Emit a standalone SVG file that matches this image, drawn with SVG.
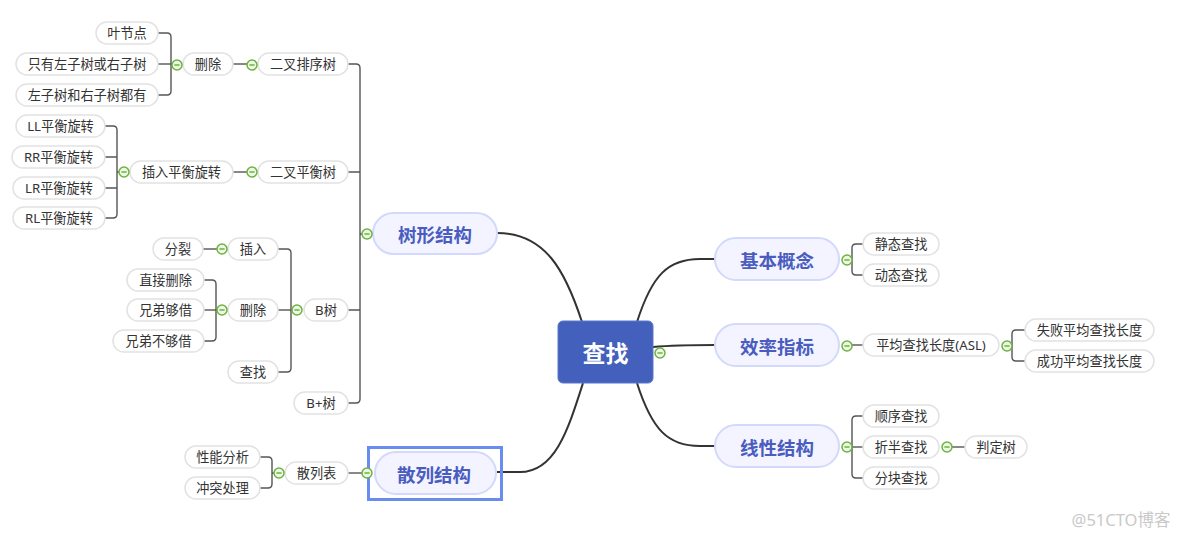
<svg xmlns="http://www.w3.org/2000/svg" xmlns:xlink="http://www.w3.org/1999/xlink" width="1181" height="537" viewBox="0 0 1181 537">
<style>
text{font-family:"Noto Sans","Noto Sans CJK SC",sans-serif;text-anchor:middle;dominant-baseline:central}
.sub rect{fill:#fff;stroke:#e2e2e2;stroke-width:1.5}
.sub text{font-size:13.2px;fill:#333}
.main rect{fill:#f3f4ff;stroke:#d2d9fa;stroke-width:2}
.main text{font-size:18.5px;font-weight:bold;fill:#4a5dbf}
.conn path{fill:none;stroke:#333;stroke-width:2}
.br path{fill:none;stroke:#555;stroke-width:1.4}
</style>
<defs>
<g id="col"><circle r="5" fill="#eef7e6" stroke="#6db33f" stroke-width="1.5"/><path d="M-2.6 0H2.6" stroke="#6db33f" stroke-width="1.5"/></g>
</defs>
<rect width="1181" height="537" fill="#fff"/>

<g id="connectors">
<g class="conn">
<path d="M497 233 C545 233 565 270 582 322"/>
<path d="M637 322 C652 275 668 259 700 259 L715 259"/>
<path d="M653 347 C675 345 690 345 715 345"/>
<path d="M637 383 C652 430 668 446 700 446 L715 446"/>
<path d="M583 383 C568 430 555 472 520 472 L497 472"/>
</g>
<g class="br">
<path d="M158 33 H167 Q171 33 171 37 V91 Q171 95 167 95 H158"/>
<path d="M158 64 H172"/>
<path d="M233 64 H247"/>
<path d="M105 126 H113 Q117 126 117 130 V214 Q117 218 113 218 H105"/>
<path d="M105 157 H117 M105 188 H117 M117 172 H119"/>
<path d="M233 172 H247"/>
<path d="M348 64 H356 Q360 64 360 68 V399 Q360 403 356 403 H348"/>
<path d="M348 172 H360 M348 310 H360 M360 234 H362"/>
<path d="M278 249 H287 Q291 249 291 253 V368 Q291 372 287 372 H278"/>
<path d="M278 310 H292"/>
<path d="M203 249 H217"/>
<path d="M204 280 H212 Q216 280 216 284 V337 Q216 341 212 341 H204"/>
<path d="M204 310 H217"/>
<path d="M260 457 H268 Q272 457 272 461 V484 Q272 488 268 488 H260"/>
<path d="M272 473 H274"/>
<path d="M348 473 H362"/>
<path d="M863 244 H856 Q852 244 852 248 V271 Q852 275 856 275 H863"/>
<path d="M852 345 H863"/>
<path d="M1025 330 H1016 Q1012 330 1012 334 V357 Q1012 361 1016 361 H1025"/>
<path d="M863 416 H856 Q852 416 852 420 V474 Q852 478 856 478 H863"/>
<path d="M852 447 H863"/>
<path d="M952 447 H965"/>
</g>
</g>

<g id="center"><rect x="558" y="321" width="95" height="62" rx="5" fill="#4360bc" stroke="#5b77cc" stroke-width="1"/><text x="605.5" y="353" font-size="23" font-weight="bold" fill="#fff">查找</text></g>

<g id="main-tree" class="main"><rect x="373" y="213" width="124" height="41" rx="20.5"/><text x="435" y="234">树形结构</text></g>
<g id="main-basic" class="main"><rect x="715" y="238" width="124" height="42" rx="21"/><text x="777" y="260">基本概念</text></g>
<g id="main-eff" class="main"><rect x="715" y="324" width="124" height="42" rx="21"/><text x="777" y="346">效率指标</text></g>
<g id="main-linear" class="main"><rect x="715" y="425" width="124" height="42" rx="21"/><text x="777" y="447">线性结构</text></g>
<g id="main-hash" class="main"><rect x="368.5" y="447.5" width="133" height="52" style="fill:none;stroke:#6a8cee;stroke-width:3"/><rect x="375" y="452" width="121" height="42" rx="21"/><text x="434" y="474">散列结构</text></g>

<g id="n-ye" class="sub"><rect x="96" y="22" width="62" height="22" rx="11"/><text x="127" y="33">叶节点</text></g>
<g id="n-zhiyou" class="sub"><rect x="16" y="53" width="142" height="22" rx="11"/><text x="87" y="64">只有左子树或右子树</text></g>
<g id="n-dou" class="sub"><rect x="16" y="84" width="142" height="22" rx="11"/><text x="87" y="95">左子树和右子树都有</text></g>
<g id="n-shanchu1" class="sub"><rect x="183" y="53" width="50" height="22" rx="11"/><text x="208" y="64">删除</text></g>
<g id="n-bst" class="sub"><rect x="258" y="53" width="90" height="22" rx="11"/><text x="303" y="64">二叉排序树</text></g>
<g id="n-ll" class="sub"><rect x="16" y="115" width="89" height="22" rx="11"/><text x="60.5" y="126">LL平衡旋转</text></g>
<g id="n-rr" class="sub"><rect x="12" y="146" width="93" height="22" rx="11"/><text x="58.5" y="157">RR平衡旋转</text></g>
<g id="n-lr" class="sub"><rect x="13" y="177" width="92" height="22" rx="11"/><text x="59" y="188">LR平衡旋转</text></g>
<g id="n-rl" class="sub"><rect x="13" y="207" width="92" height="22" rx="11"/><text x="59" y="218">RL平衡旋转</text></g>
<g id="n-charu-avl" class="sub"><rect x="130" y="161" width="103" height="22" rx="11"/><text x="181.5" y="172">插入平衡旋转</text></g>
<g id="n-avl" class="sub"><rect x="258" y="161" width="90" height="22" rx="11"/><text x="303" y="172">二叉平衡树</text></g>
<g id="n-fenlie" class="sub"><rect x="153" y="238" width="50" height="22" rx="11"/><text x="178" y="249">分裂</text></g>
<g id="n-charu" class="sub"><rect x="228" y="238" width="50" height="22" rx="11"/><text x="253" y="249">插入</text></g>
<g id="n-zhijie" class="sub"><rect x="127" y="269" width="77" height="22" rx="11"/><text x="165.5" y="280">直接删除</text></g>
<g id="n-gou" class="sub"><rect x="127" y="299" width="77" height="22" rx="11"/><text x="165.5" y="310">兄弟够借</text></g>
<g id="n-bugou" class="sub"><rect x="113" y="330" width="91" height="22" rx="11"/><text x="158.5" y="341">兄弟不够借</text></g>
<g id="n-shanchu2" class="sub"><rect x="228" y="299" width="50" height="22" rx="11"/><text x="253" y="310">删除</text></g>
<g id="n-chazhao" class="sub"><rect x="228" y="361" width="50" height="22" rx="11"/><text x="253" y="372">查找</text></g>
<g id="n-btree" class="sub"><rect x="304" y="299" width="44" height="22" rx="11"/><text x="326" y="310">B树</text></g>
<g id="n-bplus" class="sub"><rect x="294" y="392" width="54" height="22" rx="11"/><text x="321" y="403">B+树</text></g>
<g id="n-xingneng" class="sub"><rect x="185" y="446" width="75" height="22" rx="11"/><text x="222.5" y="457">性能分析</text></g>
<g id="n-chongtu" class="sub"><rect x="185" y="477" width="75" height="22" rx="11"/><text x="222.5" y="488">冲突处理</text></g>
<g id="n-sanlie" class="sub"><rect x="285" y="462" width="63" height="22" rx="11"/><text x="316.5" y="473">散列表</text></g>
<g id="n-jingtai" class="sub"><rect x="863" y="233" width="76" height="22" rx="11"/><text x="901" y="244">静态查找</text></g>
<g id="n-dongtai" class="sub"><rect x="863" y="264" width="76" height="22" rx="11"/><text x="901" y="275">动态查找</text></g>
<g id="n-asl" class="sub"><rect x="863" y="334" width="136" height="22" rx="11"/><text x="931" y="345">平均查找长度(ASL)</text></g>
<g id="n-shibai" class="sub"><rect x="1025" y="319" width="129" height="22" rx="11"/><text x="1089.5" y="330">失败平均查找长度</text></g>
<g id="n-chenggong" class="sub"><rect x="1025" y="350" width="129" height="22" rx="11"/><text x="1089.5" y="361">成功平均查找长度</text></g>
<g id="n-shunxu" class="sub"><rect x="863" y="405" width="76" height="22" rx="11"/><text x="901" y="416">顺序查找</text></g>
<g id="n-zheban" class="sub"><rect x="863" y="436" width="76" height="22" rx="11"/><text x="901" y="447">折半查找</text></g>
<g id="n-pandingshu" class="sub"><rect x="965" y="436" width="62" height="22" rx="11"/><text x="996" y="447">判定树</text></g>
<g id="n-fenkuai" class="sub"><rect x="863" y="467" width="76" height="22" rx="11"/><text x="901" y="478">分块查找</text></g>

<g id="collapse">
<use href="#col" x="177" y="65"/>
<use href="#col" x="252" y="65"/>
<use href="#col" x="124" y="172"/>
<use href="#col" x="252" y="172"/>
<use href="#col" x="367" y="234"/>
<use href="#col" x="222" y="249"/>
<use href="#col" x="222" y="310"/>
<use href="#col" x="297" y="310"/>
<use href="#col" x="279" y="473"/>
<use href="#col" x="367" y="473"/>
<use href="#col" x="660" y="353"/>
<use href="#col" x="847" y="260"/>
<use href="#col" x="847" y="346"/>
<use href="#col" x="1007" y="346"/>
<use href="#col" x="847" y="447"/>
<use href="#col" x="947" y="447"/>
</g>

<text x="1121" y="519" font-size="16.5" fill="#c9c9c9">@51CTO博客</text>
</svg>
